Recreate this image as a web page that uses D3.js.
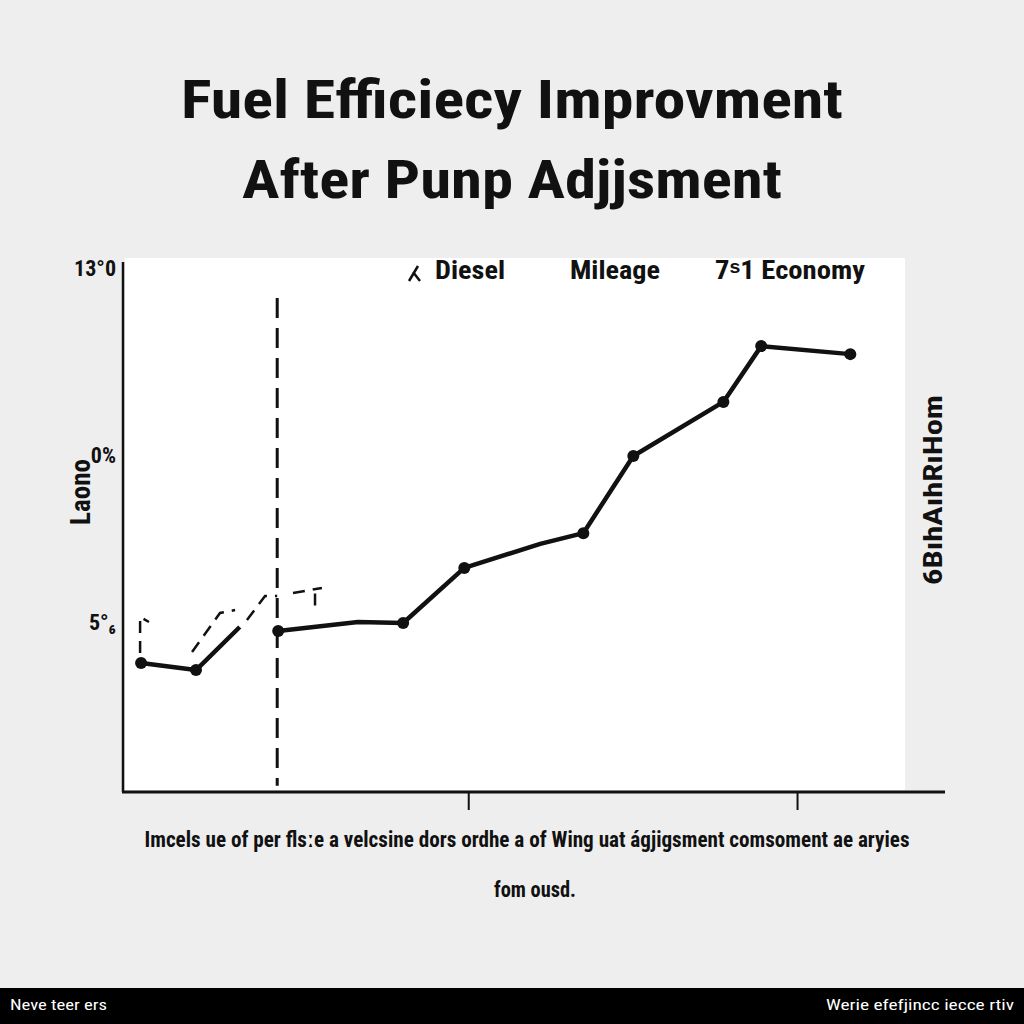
<!DOCTYPE html>
<html><head><meta charset="utf-8">
<script src="https://cdn.jsdelivr.net/npm/d3@7"></script>
<style>html,body{margin:0;padding:0;background:#eeeeee;}svg{display:block;}</style>
</head><body>
<script>
// ---- data ----
const titleLines = ["Fuel Efficiecy Improvment", "After Punp Adjjsment"];
const legendLabels = ["Diesel", "Mileage", "7\u02E21 Economy"];
const yTickValues = [5, 10, 15.6];
const yTickLabels = ["5\u00B0\u2086", "0%", "13\u00B00"];
const xTickValues = [10, 20];
const adjustWeek = 4.19;
// solid series (before adjustment)
const beforeX = [0.05, 1.72, 3.05];
const beforeY = [3.77, 3.56, 4.85];
const beforeMarked = [true, true, false];
// solid series (after adjustment)
const afterX = [4.22, 6.65, 8.02, 9.88, 12.19, 13.5, 15.02, 17.76, 18.91, 21.62];
const afterY = [4.73, 5.0, 4.97, 6.62, 7.34, 7.66, 9.97, 11.59, 13.26, 13.02];
const afterMarked = [true, false, true, true, false, true, true, true, true, true];
// dashed series (null = gap)
const dashX = [0.02, 0.02, 0.29, null, 1.6, 2.45, 2.91, null, 3.27, 3.82, 4.19, null, 4.67, 5.55, null, 5.34, 5.34];
const dashY = [4.07, 5.15, 5.0, null, 4.1, 5.27, 5.36, null, 5.06, 5.78, 5.78, null, 5.87, 6.02, null, 5.85, 5.3];
const yAxisLabel = "Laono";
const rightLabel = "6B\u0131hA\u0131hR\u0131Hom";
const captionLines = ["Imcels ue of per flsːe a velcsine dors ordhe a of Wing uat ágjigsment comsoment ae aryies", "fom ousd."];
const footerLeft = "Neve teer ers";
const footerRight = "Werie efefjincc iecce rtiv";

// ---- drawing ----
const W = 1024, H = 1024;
const font = "'Liberation Sans Narrow','Roboto Condensed','Liberation Sans',Arial,sans-serif";
const svg = d3.select("body").append("svg").attr("width", W).attr("height", H);
svg.append("rect").attr("width", W).attr("height", H).attr("fill", "#eeeeee");

const x = d3.scaleLinear().domain([-0.5, 24.5]).range([123, 945]);
const y = d3.scaleLinear().domain([0, 15]).range([789, 288]);

// plot bg
svg.append("rect").attr("x", 125).attr("y", 258).attr("width", 780).attr("height", 532).attr("fill", "#ffffff");

// title
[[titleLines[0], 118, 662], [titleLines[1], 198, 540]].forEach(([t, yy, len]) => {
  svg.append("text").attr("x", 512).attr("y", yy).attr("text-anchor", "middle")
    .attr("font-family", font).attr("font-weight", "bold").attr("font-size", 54)
    .attr("textLength", len).attr("lengthAdjust", "spacingAndGlyphs")
    .attr("fill", "#111").text(t);
});

// axes
const yAxis = d3.axisLeft(y).tickValues(yTickValues).tickSize(0).tickFormat((d, i) => yTickLabels[i]);
const gy = svg.append("g").attr("transform", "translate(123,0)").call(yAxis);
gy.select(".domain").remove();
gy.selectAll("text").attr("font-family", font).attr("font-size", 22).attr("font-weight", "bold").attr("fill", "#111").attr("dx", -4);
svg.append("line").attr("x1", 123).attr("x2", 123).attr("y1", 262).attr("y2", 792).attr("stroke", "#111").attr("stroke-width", 2.5);

const xAxis = d3.axisBottom(x).tickValues(xTickValues).tickSize(18).tickFormat("");
const gx = svg.append("g").attr("transform", "translate(0,792)").call(xAxis);
gx.select(".domain").remove();
gx.selectAll("line").attr("stroke", "#111").attr("stroke-width", 2);
svg.append("line").attr("x1", 122).attr("x2", 945).attr("y1", 792).attr("y2", 792).attr("stroke", "#111").attr("stroke-width", 3);

// y axis label
svg.append("text").attr("transform", "translate(90,492) rotate(-90)").attr("text-anchor", "middle")
  .attr("font-family", font).attr("font-weight", "bold").attr("font-size", 27).attr("fill", "#111").text(yAxisLabel);
// right label
svg.append("text").attr("transform", "translate(942,490) rotate(-90)").attr("text-anchor", "middle")
  .attr("font-family", font).attr("font-weight", "bold").attr("font-size", 26)
  .attr("textLength", 190).attr("lengthAdjust", "spacingAndGlyphs").attr("fill", "#111").text(rightLabel);

// legend
const legX = [435, 570, 715];
const legLen = [70, 90, 150];
legendLabels.forEach((t, i) => {
  svg.append("text").attr("x", legX[i]).attr("y", 279).attr("font-family", font).attr("font-weight", "bold")
    .attr("font-size", 25).attr("textLength", legLen[i]).attr("lengthAdjust", "spacingAndGlyphs").attr("fill", "#111").text(t);
});
svg.append("path").attr("d", "M409,281 L418,266 M413,272 L420,281").attr("stroke", "#111").attr("stroke-width", 2.5).attr("fill", "none");

// vertical dashed adjustment line
svg.append("line").attr("x1", x(adjustWeek)).attr("x2", x(adjustWeek)).attr("y1", y(14.7)).attr("y2", y(0.1))
  .attr("stroke", "#111").attr("stroke-width", 3).attr("stroke-dasharray", "20,10");

// dashed series
const dashData = dashX.map((d, i) => ({ x: d, y: dashY[i] }));
const dLine = d3.line().defined(d => d.x !== null).x(d => x(d.x)).y(d => y(d.y));
svg.append("path").datum(dashData).attr("d", dLine).attr("fill", "none").attr("stroke", "#111")
  .attr("stroke-width", 2.5).attr("stroke-dasharray", "12,8");

// solid series
const sLine = d3.line().x(d => x(d.x)).y(d => y(d.y));
[[beforeX, beforeY, beforeMarked], [afterX, afterY, afterMarked]].forEach(([xs, ys, mk]) => {
  const data = xs.map((d, i) => ({ x: d, y: ys[i], m: mk[i] }));
  svg.append("path").datum(data).attr("d", sLine).attr("fill", "none").attr("stroke", "#111")
    .attr("stroke-width", 4.5).attr("stroke-linejoin", "round");
  svg.selectAll(null).data(data.filter(d => d.m)).enter().append("circle")
    .attr("cx", d => x(d.x)).attr("cy", d => y(d.y)).attr("r", 6).attr("fill", "#111");
});

// caption
svg.append("text").attr("x", 527).attr("y", 847).attr("text-anchor", "middle").attr("font-family", font)
  .attr("font-weight", "bold").attr("font-size", 22).attr("textLength", 765).attr("lengthAdjust", "spacingAndGlyphs")
  .attr("fill", "#111").text(captionLines[0]);
svg.append("text").attr("x", 535).attr("y", 897).attr("text-anchor", "middle").attr("font-family", font)
  .attr("font-weight", "bold").attr("font-size", 22).attr("textLength", 82).attr("lengthAdjust", "spacingAndGlyphs")
  .attr("fill", "#111").text(captionLines[1]);

// footer
svg.append("rect").attr("x", 0).attr("y", 988).attr("width", W).attr("height", 36).attr("fill", "#000");
svg.append("text").attr("x", 10).attr("y", 1010).attr("font-family", font).attr("font-size", 15).attr("fill", "#fff")
  .attr("textLength", 97).attr("lengthAdjust", "spacingAndGlyphs").text(footerLeft);
svg.append("text").attr("x", 1014).attr("y", 1010).attr("text-anchor", "end").attr("font-family", font).attr("font-size", 15)
  .attr("fill", "#fff").attr("textLength", 188).attr("lengthAdjust", "spacingAndGlyphs").text(footerRight);
</script>
</body></html>
